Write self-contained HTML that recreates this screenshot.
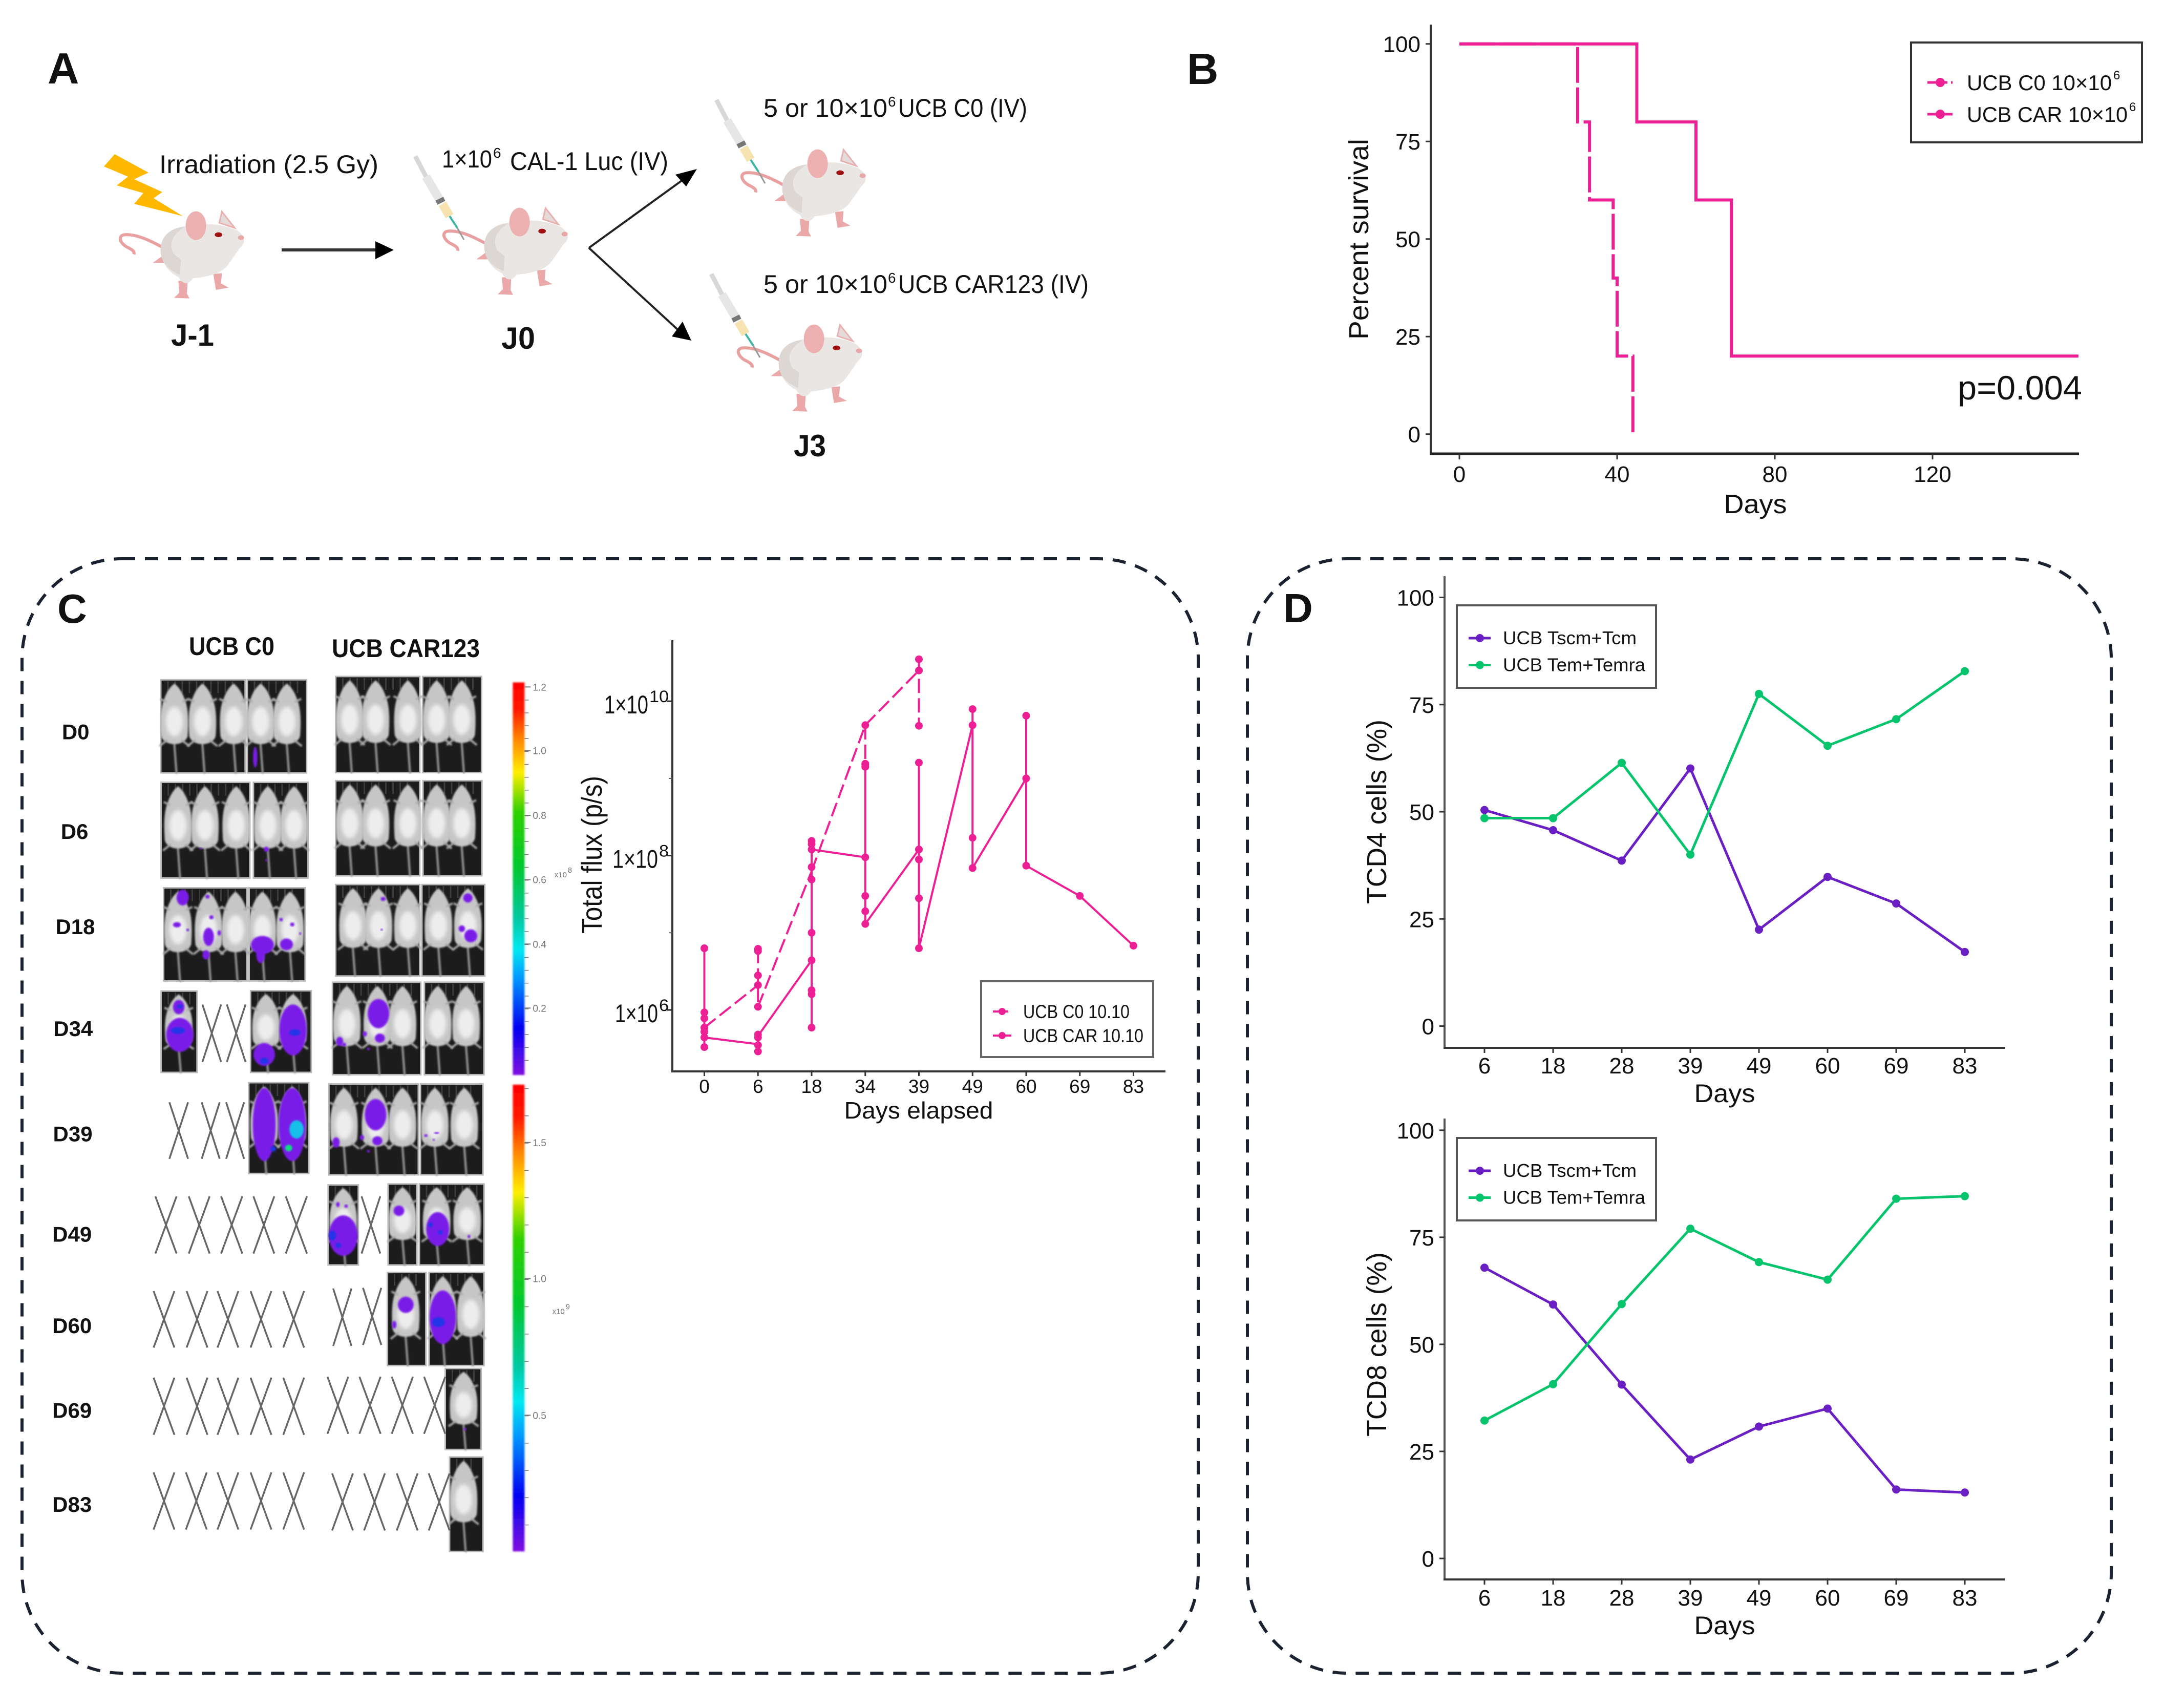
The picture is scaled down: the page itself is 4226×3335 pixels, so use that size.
<!DOCTYPE html>
<html lang="en">
<head>
<meta charset="utf-8">
<title>CAR123 mouse study figure</title>
<style>
html,body{margin:0;padding:0;background:#fff;width:4226px;height:3335px;overflow:hidden}
svg{display:block}
text{font-family:"Liberation Sans",sans-serif;fill:#111}
</style>
</head>
<body>
<svg id="fig" xmlns="http://www.w3.org/2000/svg" width="4226" height="3335" viewBox="0 0 4226 3335">
<defs>
<filter id="soft" x="-20%" y="-20%" width="140%" height="140%"><feGaussianBlur stdDeviation="1.6"/></filter>
<filter id="softer" x="-30%" y="-30%" width="160%" height="160%"><feGaussianBlur stdDeviation="3.4"/></filter>
<linearGradient id="lut" x1="0" y1="0" x2="0" y2="1">
<stop offset="0" stop-color="#ff0000"/><stop offset=".07" stop-color="#ff1a00"/><stop offset=".14" stop-color="#ff8000"/><stop offset=".23" stop-color="#ffee00"/><stop offset=".33" stop-color="#30d000"/><stop offset=".47" stop-color="#00c830"/><stop offset=".6" stop-color="#00c8a0"/><stop offset=".68" stop-color="#00e8f0"/><stop offset=".76" stop-color="#0090ff"/><stop offset=".88" stop-color="#0000f0"/><stop offset="1" stop-color="#8010e0"/>
</linearGradient>
<symbol id="schem-mouse" overflow="visible">
<g transform="scale(.3333)">
<path d="M345,395 C280,360 200,320 130,325 C90,330 100,370 140,395 C170,410 190,420 185,440" fill="none" stroke="#e9a0a0" stroke-width="18"/>
<path d="M295,490 L350,450 L368,490Z" fill="#eaa8a8"/>
<path d="M650,555 L700,550 L695,610 L740,635 L665,648 Z" fill="#eaa8a8"/>
<path d="M445,595 L500,595 L495,670 L510,698 L420,695 L450,665Z" fill="#eaa8a8"/>
<path d="M345,380 C360,310 430,280 490,275 C560,260 680,250 790,300 C835,330 845,372 805,402 C785,432 765,462 735,502 C705,545 640,570 530,580 C510,615 470,622 445,572 C380,542 330,470 345,380 Z" fill="#e9e6e4"/>
<path d="M345,380 C360,310 430,280 480,280 C420,320 380,370 420,440 L460,470 L455,560 C380,530 325,470 345,380Z" fill="#dcd7d3"/>
<ellipse cx="548" cy="272" rx="60" ry="84" fill="#ecb0b0"/>
<path d="M700,190 L775,285 L685,255 Z" fill="#e4dbd9" stroke="#e9b0b0" stroke-width="9"/>
<ellipse cx="680" cy="325" rx="22" ry="14" fill="#a01010"/>
<ellipse cx="812" cy="342" rx="18" ry="14" fill="#e9a8a8"/>
</g>
</symbol>
<symbol id="syringe" overflow="visible">
<line x1="811" y1="305" x2="832" y2="345" stroke="#d8d8d8" stroke-width="9"/>
<line x1="832" y1="345" x2="860" y2="392" stroke="#e6e6e6" stroke-width="17"/>
<line x1="858" y1="388" x2="862" y2="396" stroke="#777" stroke-width="17"/>
<line x1="864" y1="398" x2="878" y2="422" stroke="#f7e3b0" stroke-width="17"/>
<line x1="878" y1="422" x2="893" y2="445" stroke="#3fb5a5" stroke-width="4"/>
<line x1="893" y1="445" x2="906" y2="468" stroke="#999" stroke-width="3"/>
</symbol>
</defs>

<rect width="4226" height="3335" fill="#fff"/>

<!-- Panel A -->
<g>
<text x="93" y="163" font-size="85" font-weight="700" fill="#000">A</text>
<polygon points="224,301 290,337 262,350 317,375 300,387 357,422 262,398 280,377 228,362 250,345 203,325" fill="#ffb800"/>
<use href="#schem-mouse" x="200" y="350"/>
<use href="#schem-mouse" x="832" y="343"/>
<use href="#schem-mouse" x="1414" y="229"/>
<use href="#schem-mouse" x="1407" y="571"/>
<use href="#syringe"/>
<use href="#syringe" x="588" y="-110"/>
<use href="#syringe" x="578" y="230"/>
<text x="311" y="338" font-size="50" textLength="428" lengthAdjust="spacingAndGlyphs">Irradiation (2.5 Gy)</text>
<text x="863" y="327" font-size="48" textLength="98" lengthAdjust="spacingAndGlyphs">1×10</text>
<text x="963" y="308" font-size="28">6</text>
<text x="996" y="332" font-size="50" textLength="309" lengthAdjust="spacingAndGlyphs">CAL-1 Luc (IV)</text>
<text x="1491" y="228" font-size="50" textLength="242" lengthAdjust="spacingAndGlyphs">5 or 10×10</text>
<text x="1734" y="208" font-size="28">6</text>
<text x="1754" y="228" font-size="50" textLength="252" lengthAdjust="spacingAndGlyphs">UCB C0 (IV)</text>
<text x="1491" y="572" font-size="50" textLength="242" lengthAdjust="spacingAndGlyphs">5 or 10×10</text>
<text x="1734" y="552" font-size="28">6</text>
<text x="1754" y="572" font-size="50" textLength="372" lengthAdjust="spacingAndGlyphs">UCB CAR123 (IV)</text>
<text x="334" y="675" font-size="60" font-weight="700" textLength="84" lengthAdjust="spacingAndGlyphs">J-1</text>
<text x="979" y="681" font-size="60" font-weight="700" textLength="66" lengthAdjust="spacingAndGlyphs">J0</text>
<text x="1550" y="891" font-size="60" font-weight="700" textLength="63" lengthAdjust="spacingAndGlyphs">J3</text>
<line x1="550" y1="488" x2="736" y2="488" stroke="#333" stroke-width="6"/>
<polygon points="733,471 769,488 733,506" fill="#000"/>
<line x1="1150" y1="484" x2="1335" y2="350" stroke="#222" stroke-width="4"/>
<polygon points="1361,330 1319,341 1340,364" fill="#000"/>
<line x1="1150" y1="484" x2="1325" y2="645" stroke="#222" stroke-width="4"/>
<polygon points="1350,665 1312,657 1333,628" fill="#000"/>
</g>

<!-- Dashed group frames -->
<rect x="43" y="1091" width="2297" height="2176" rx="195" ry="195" fill="none" stroke="#1a2230" stroke-width="6" stroke-dasharray="26 19"/>
<rect x="2436" y="1091" width="1687" height="2176" rx="195" ry="195" fill="none" stroke="#1a2230" stroke-width="6" stroke-dasharray="26 19"/>

<text x="2318" y="164" font-size="85" font-weight="700" fill="#000">B</text>
<text x="112" y="1216" font-size="80" font-weight="700" fill="#000">C</text>
<text x="2506" y="1215" font-size="80" font-weight="700" fill="#000">D</text>

<text x="369" y="1279" font-size="50" font-weight="700" textLength="167" lengthAdjust="spacingAndGlyphs">UCB C0</text>
<text x="648" y="1283" font-size="50" font-weight="700" textLength="289" lengthAdjust="spacingAndGlyphs">UCB CAR123</text>

<g id="imaging"></g>
<g id="chart-b"></g>
<g id="chart-c"></g>
<g id="chart-d1"></g>
<g id="chart-d2"></g>
</svg>

<script>
// ---------- Chart data ----------
const survivalTicksX = [0, 40, 80, 120];
const survivalTicksY = [0, 25, 50, 75, 100];
const survivalC0Days = [0, 30, 33, 39, 40, 44];
const survivalC0Pct = [100, 80, 60, 40, 20, 0];
const survivalCarDays = [0, 45, 60, 69, 157];
const survivalCarPct = [100, 80, 60, 20, 20];

const fluxDays = ['0', '6', '18', '34', '39', '49', '60', '69', '83'];
const fluxC0Points = [
  [9.3e5, 7.8e5, 5.9e5, 5.2e5],
  [6.2e6, 5.8e6, 2.8e6, 2.1e6, 1.1e6],
  [1.41e8, 7.1e7, 1e7, 1.8e6],
  [4.9e9, 1.55e9, 1.41e9],
  [3.5e10, 2.5e10, 4.8e9]
];
const fluxCarPoints = [
  [6.3e6, 4.4e5, 3.3e5],
  [4.8e5, 4.4e5, 3.5e5, 2.9e5],
  [1.55e8, 1.2e8, 4.9e7, 4.4e6, 1.6e6, 5.9e5],
  [1.5e9, 9.5e7, 3e7, 1.9e7, 1.3e7],
  [1.6e9, 1.2e8, 8.9e7, 2.8e7, 6.3e6],
  [7.9e9, 4.9e9, 1.7e8, 6.9e7],
  [6.5e9, 1e9, 7.4e7],
  [3e7],
  [6.8e6]
];
const fluxC0Entry = [5.9e5, 2.1e6, 6.3e7, 4.9e9, 2.5e10];
const fluxC0Exit = [5.9e5, 1.1e6, 6.3e7, 4.9e9, 2.5e10];
const fluxCarEntry = [4.4e5, 3.6e5, 4.4e6, 9.5e7, 1.2e8, 4.9e9, 1e9, 3e7, 6.8e6];
const fluxCarExit = [4.4e5, 4.6e5, 1.2e8, 1.3e7, 6.3e6, 6.9e7, 7.4e7, 3e7, 6.8e6];
const fluxMajorTicks = [1e6, 1e8, 1e10];
const fluxMinorTicks = [1e7, 1e9];
const fluxTickExponents = ['6', '8', '10'];

const subsetDays = ['6', '18', '28', '39', '49', '60', '69', '83'];
const subsetTicksY = [0, 25, 50, 75, 100];
const cd4Tscm = [50.4, 45.7, 38.6, 60.1, 22.5, 34.8, 28.6, 17.3];
const cd4Tem = [48.5, 48.5, 61.4, 40, 77.5, 65.4, 71.6, 82.8];
const cd8Tscm = [67.9, 59.3, 40.6, 23.1, 30.8, 35, 16.1, 15.4];
const cd8Tem = [32.2, 40.7, 59.4, 77, 69.2, 65.1, 84, 84.6];

const PINK = '#ec1f94';
const PURPLE = '#6a1fc4';
const GREEN = '#05c46b';
const NS = 'http://www.w3.org/2000/svg';

// ---------- Drawing helpers ----------
function addLine(parent, x1, y1, x2, y2, color, width, dash, name) {
  const el = document.createElementNS(NS, 'line');
  el.setAttribute('x1', x1);
  el.setAttribute('y1', y1);
  el.setAttribute('x2', x2);
  el.setAttribute('y2', y2);
  el.setAttribute('stroke', color);
  el.setAttribute('stroke-width', width);
  if (dash) el.setAttribute('stroke-dasharray', dash);
  
  
  parent.appendChild(el);
  return el;
}
function addPolyline(parent, pts, color, width, dash, name) {
  const el = document.createElementNS(NS, 'polyline');
  el.setAttribute('points', pts.map(p => p[0] + ',' + p[1]).join(' '));
  el.setAttribute('fill', 'none');
  el.setAttribute('stroke', color);
  el.setAttribute('stroke-width', width);
  if (dash) el.setAttribute('stroke-dasharray', dash);
  
  
  parent.appendChild(el);
  return el;
}
function addDot(parent, cx, cy, r, color, name) {
  const el = document.createElementNS(NS, 'circle');
  el.setAttribute('cx', cx);
  el.setAttribute('cy', cy);
  el.setAttribute('r', r);
  el.setAttribute('fill', color);
  
  
  parent.appendChild(el);
  return el;
}
function addRect(parent, x, y, w, h, fill, stroke, sw, name) {
  const el = document.createElementNS(NS, 'rect');
  el.setAttribute('x', x);
  el.setAttribute('y', y);
  el.setAttribute('width', w);
  el.setAttribute('height', h);
  el.setAttribute('fill', fill);
  if (stroke) { el.setAttribute('stroke', stroke); el.setAttribute('stroke-width', sw); }
  
  
  parent.appendChild(el);
  return el;
}
function addText(parent, x, y, str, size, anchor, length, name, rotate) {
  const el = document.createElementNS(NS, 'text');
  el.setAttribute('x', x);
  el.setAttribute('y', y);
  el.setAttribute('font-size', size);
  el.setAttribute('text-anchor', anchor || 'start');
  if (length) { el.setAttribute('textLength', length); el.setAttribute('lengthAdjust', 'spacingAndGlyphs'); }
  if (rotate) el.setAttribute('transform', 'rotate(-90 ' + x + ' ' + y + ')');
  el.textContent = str;
  
  
  parent.appendChild(el);
  return el;
}

// ---------- Panel B: survival ----------
(function () {
  const g = document.getElementById('chart-b');
  const xB = d => 2850 + d * 7.7;
  const yB = v => 847.7 - v * 7.62;
  const stepPath = (days, pct) => {
    const pts = [[xB(days[0]), yB(pct[0])]];
    for (let i = 1; i < days.length; i++) {
      pts.push([xB(days[i]), yB(pct[i - 1])]);
      pts.push([xB(days[i]), yB(pct[i])]);
    }
    return pts;
  };
  addPolyline(g, stepPath(survivalC0Days, survivalC0Pct), PINK, 6, '70 9', 'survival-line-c0');
  addPolyline(g, stepPath(survivalCarDays, survivalCarPct), PINK, 6, null, 'survival-line-car');
  addLine(g, 2794, 48, 2794, 888, '#333', 4, null, 'y-axis-line');
  addLine(g, 2792, 886, 4060, 886, '#222', 5, null, 'x-axis-line');
  survivalTicksY.forEach(v => {
    addLine(g, 2784, yB(v), 2794, yB(v), '#333', 3, null, 'y-tick');
    addText(g, 2774, yB(v) + 16, String(v), 44, 'end', null, 'y-tick-label');
  });
  survivalTicksX.forEach(d => {
    addLine(g, xB(d), 886, xB(d), 897, '#333', 3, null, 'x-tick');
    addText(g, xB(d), 941, String(d), 44, 'middle', null, 'x-tick-label');
  });
  addText(g, 3428, 1002, 'Days', 52, 'middle', 123, 'x-axis-title');
  addText(g, 2672, 467, 'Percent survival', 54, 'middle', 392, 'y-axis-title', true);
  addText(g, 3823, 780, 'p=0.004', 66, 'start', 243, 'p-value');
  addRect(g, 3732, 83, 451, 195, '#fff', '#333', 4, 'legend-box');
  addLine(g, 3764, 161, 3813, 161, PINK, 5, '16 7', 'legend-line-c0');
  addDot(g, 3789, 161, 9, PINK, 'legend-marker-c0');
  addText(g, 3841, 176, 'UCB C0 10×10', 42, 'start', 283, 'legend-entry-c0');
  addText(g, 4127, 155, '6', 24, 'start', null, 'legend-exponent-c0');
  addLine(g, 3764, 223, 3813, 223, PINK, 5, null, 'legend-line-car');
  addDot(g, 3789, 223, 9, PINK, 'legend-marker-car');
  addText(g, 3841, 238, 'UCB CAR 10×10', 42, 'start', 314, 'legend-entry-car');
  addText(g, 4158, 217, '6', 24, 'start', null, 'legend-exponent-car');
})();

// ---------- Panel C: flux chart ----------
(function () {
  const g = document.getElementById('chart-c');
  const xC = i => 1375.5 + i * 104.75;
  const yC = v => 1972 - (Math.log10(v) - 6) * 150.7;
  const drawGroup = (points, entry, exit, dash, prefix) => {
    points.forEach((vals, i) => {
      if (vals.length > 1) {
        addLine(g, xC(i), yC(Math.max(...vals)), xC(i), yC(Math.min(...vals)), PINK, 4, dash, prefix + '-range-day-' + fluxDays[i]);
      }
      if (i < points.length - 1) {
        addLine(g, xC(i), yC(exit[i]), xC(i + 1), yC(entry[i + 1]), PINK, 4, dash, prefix + '-trend-segment');
      }
    });
    points.forEach((vals, i) => {
      vals.forEach(v => {
        addDot(g, xC(i), yC(v), 7.5, PINK, prefix + '-point-day-' + fluxDays[i]);
      });
    });
  };
  drawGroup(fluxC0Points, fluxC0Entry, fluxC0Exit, '28 10', 'c0');
  drawGroup(fluxCarPoints, fluxCarEntry, fluxCarExit, null, 'car');
  addLine(g, 1313, 1250, 1313, 2094, '#333', 4, null, 'y-axis-line');
  addLine(g, 1311, 2092, 2276, 2092, '#333', 4, null, 'x-axis-line');
  fluxMajorTicks.forEach((v, i) => {
    addLine(g, 1303, yC(v), 1313, yC(v), '#333', 3, null, 'y-tick-major');
    const exp = fluxTickExponents[i];
    const supW = exp.length * 19;
    const baseLeft = { '6': 1201, '8': 1196, '10': 1180 }[exp];
    addText(g, baseLeft, yC(v) + 24, '1×10', 50, 'start', 1306 - supW - 2 - baseLeft, 'y-tick-label');
    addText(g, 1306, yC(v) + 2, exp, 32, 'end', supW, 'y-tick-exponent');
  });
  fluxMinorTicks.forEach(v => {
    addLine(g, 1306, yC(v), 1313, yC(v), '#555', 2, null, 'y-tick-minor');
  });
  fluxDays.forEach((d, i) => {
    addLine(g, xC(i), 2092, xC(i), 2101, '#333', 3, null, 'x-tick');
    addText(g, xC(i), 2134, d, 37, 'middle', null, 'x-tick-label');
  });
  addText(g, 1794, 2184, 'Days elapsed', 46, 'middle', 291, 'x-axis-title');
  addText(g, 1175, 1669, 'Total flux (p/s)', 56, 'middle', 308, 'y-axis-title', true);
  addRect(g, 1916, 1916, 336, 148, '#fff', '#666', 4, 'legend-box');
  addLine(g, 1939, 1975, 1975, 1975, PINK, 4, '12 6', 'legend-line-c0');
  addDot(g, 1957, 1975, 7, PINK, 'legend-marker-c0');
  addText(g, 1998, 1988, 'UCB C0 10.10', 37, 'start', 208, 'legend-entry-c0');
  addLine(g, 1939, 2022, 1975, 2022, PINK, 4, null, 'legend-line-car');
  addDot(g, 1957, 2022, 7, PINK, 'legend-marker-car');
  addText(g, 1998, 2035, 'UCB CAR 10.10', 37, 'start', 235, 'legend-entry-car');
})();

// ---------- Panel D: subset charts ----------
function drawSubsetChart(gid, yZero, yPerUnit, axisTop, axisBottom, tickLabelY, titleY, ylabel, ylabelCenter, legendTop, tscm, tem) {
  const g = document.getElementById(gid);
  const xD = i => 2899 + i * 134;
  const yD = v => yZero - v * yPerUnit;
  addPolyline(g, tscm.map((v, i) => [xD(i), yD(v)]), PURPLE, 5, null, 'line-tscm-tcm');
  addPolyline(g, tem.map((v, i) => [xD(i), yD(v)]), GREEN, 5, null, 'line-tem-temra');
  tscm.forEach((v, i) => { addDot(g, xD(i), yD(v), 8, PURPLE, 'point-tscm-day-' + subsetDays[i]); });
  tem.forEach((v, i) => { addDot(g, xD(i), yD(v), 8, GREEN, 'point-tem-day-' + subsetDays[i]); });
  addLine(g, 2821, axisTop, 2821, axisBottom + 2, '#555', 4, null, 'y-axis-line');
  addLine(g, 2819, axisBottom, 3916, axisBottom, '#333', 4, null, 'x-axis-line');
  subsetTicksY.forEach(v => {
    addLine(g, 2811, yD(v), 2821, yD(v), '#333', 3, null, 'y-tick');
    addText(g, 2801, yD(v) + 16, String(v), 44, 'end', null, 'y-tick-label');
  });
  subsetDays.forEach((d, i) => {
    addLine(g, xD(i), axisBottom, xD(i), axisBottom + 10, '#333', 3, null, 'x-tick');
    addText(g, xD(i), tickLabelY, d, 44, 'middle', null, 'x-tick-label');
  });
  addText(g, 3368, titleY, 'Days', 50, 'middle', 119, 'x-axis-title');
  addText(g, 2707, ylabelCenter, ylabel, 54, 'middle', 360, 'y-axis-title', true);
  addRect(g, 2845, legendTop, 389, 161, '#fff', '#555', 4, 'legend-box');
  const e1 = legendTop + 64, e2 = legendTop + 116.5;
  addLine(g, 2868, e1, 2911, e1, PURPLE, 5, null, 'legend-line-tscm');
  addDot(g, 2890, e1, 8, PURPLE, 'legend-marker-tscm');
  addText(g, 2935, e1 + 12, 'UCB Tscm+Tcm', 36, 'start', 261, 'legend-entry-tscm');
  addLine(g, 2868, e2, 2911, e2, GREEN, 5, null, 'legend-line-tem');
  addDot(g, 2890, e2, 8, GREEN, 'legend-marker-tem');
  addText(g, 2935, e2 + 12, 'UCB Tem+Temra', 36, 'start', 278, 'legend-entry-tem');
}
drawSubsetChart('chart-d1', 2003.5, 8.37, 1125, 2046, 2096, 2152, 'TCD4 cells (%)', 1585, 1182, cd4Tscm, cd4Tem);
drawSubsetChart('chart-d2', 3043, 8.362, 2184, 3084, 3135, 3191, 'TCD8 cells (%)', 2625, 2222, cd8Tscm, cd8Tem);

// ---------- Panel C: imaging illustration ----------
(function () {
  const root = document.getElementById('imaging');
  const OFF = 1489.5;
  const X = x => 60 + 0.7015 * x;
  const Y = y => 1150 + 0.6378 * y;
  const mkPath = (d, fill) => {
    const el = document.createElementNS(NS, 'path');
    el.setAttribute('d', d);
    el.setAttribute('fill', fill);
    return el;
  };
  function mouse(parent, cxZ, topPx, hPx) {
    const cx = X(cxZ), y0 = topPx + hPx * 0.04, h = hPx * 0.66, w = 28;
    const g = document.createElementNS(NS, 'g');
    g.setAttribute('filter', 'url(#soft)');
    
    
    const f = (a, b) => (cx + a * w).toFixed(1) + ',' + (y0 + b * h).toFixed(1);
    const tail = addLine(g, cx, y0 + h, cx + 4, topPx + hPx, '#9a9a9a', 4, null, 'mouse-tail');
    tail.setAttribute('stroke-linecap', 'round');
    g.appendChild(mkPath('M' + f(0, 0) + ' C' + f(.32, .06) + ' ' + f(.55, .14) + ' ' + f(.72, .26) + ' C' + f(.98, .4) + ' ' + f(1, .62) + ' ' + f(.92, .86) + ' C' + f(.7, 1.03) + ' ' + f(-.7, 1.03) + ' ' + f(-.92, .86) + ' C' + f(-1, .62) + ' ' + f(-.98, .4) + ' ' + f(-.72, .26) + ' C' + f(-.55, .14) + ' ' + f(-.32, .06) + ' ' + f(0, 0) + 'Z', '#c6c6c6'));
    const hi = document.createElementNS(NS, 'ellipse');
    hi.setAttribute('cx', cx);
    hi.setAttribute('cy', y0 + h * 0.62);
    hi.setAttribute('rx', w * 0.6);
    hi.setAttribute('ry', h * 0.24);
    hi.setAttribute('fill', '#ededed');
    hi.setAttribute('filter', 'url(#softer)');
    g.appendChild(hi);
    addLine(g, cx - w * 1.0, y0 + h * 0.25, cx - w * 0.55, y0 + h * 0.3, '#aaa', 4, null, 'mouse-forepaw');
    addLine(g, cx + w * 1.0, y0 + h * 0.25, cx + w * 0.55, y0 + h * 0.3, '#aaa', 4, null, 'mouse-forepaw');
    addLine(g, cx - w * 1.05, y0 + h * 1.02, cx - w * 0.5, y0 + h * 0.92, '#aaa', 4, null, 'mouse-hindpaw');
    addLine(g, cx + w * 1.05, y0 + h * 1.02, cx + w * 0.5, y0 + h * 0.92, '#aaa', 4, null, 'mouse-hindpaw');
    parent.appendChild(g);
  }
  function blob(parent, b, offs) {
    const el = document.createElementNS(NS, 'ellipse');
    el.setAttribute('cx', X(b[0]));
    el.setAttribute('cy', Y(b[1] + offs));
    el.setAttribute('rx', b[2] * 0.7015);
    el.setAttribute('ry', b[3] * 0.6378);
    el.setAttribute('fill', b[4] || '#7a1fe8');
    el.setAttribute('filter', 'url(#soft)');
    
    
    parent.appendChild(el);
  }
  function panel(p, offs) {
    const x0 = X(p[0]), y0 = Y(p[1] + offs), x1 = X(p[2]), y1 = Y(p[3] + offs);
    const g = document.createElementNS(NS, 'g');
    
    
    addRect(g, x0, y0, x1 - x0, y1 - y0, '#1c1c1c', '#b8b8b8', 3, 'imaging-panel-background');
    const n = Math.floor((x1 - x0) / 14);
    for (let i = 1; i < n; i++) {
      addLine(g, x0 + i * 14, y0 + 3, x0 + i * 14, y0 + 26, '#3d3d3d', 3, null, 'imaging-stage-bar');
    }
    p[4].forEach(c => mouse(g, c, y0, y1 - y0));
    (p[5] || []).forEach(b => blob(g, b, offs));
    root.appendChild(g);
  }
  function cross(xa, xb, ya, yb, offs) {
    const g = document.createElementNS(NS, 'g');
    
    
    addLine(g, X(xa), Y(ya + offs), X(xb), Y(yb + offs), '#666', 3.5, null, 'cross-stroke');
    addLine(g, X(xb), Y(ya + offs), X(xa), Y(yb + offs), '#666', 3.5, null, 'cross-stroke');
    root.appendChild(g);
  }
  const BL = '#2436e8';
  const topPanels = [
    [362, 278, 597, 563, [400, 478, 565]],
    [603, 278, 768, 563, [640, 713], [[625, 515, 6, 32]]],
    [849, 268, 1083, 562, [888, 960, 1050]],
    [1091, 268, 1255, 562, [1130, 1200]],
    [363, 592, 610, 885, [410, 485, 572], [[473, 795, 3, 3]]],
    [620, 592, 772, 885, [660, 733], [[656, 797, 7, 8], [656, 830, 3, 4]]],
    [849, 587, 1083, 878, [888, 960, 1050]],
    [1092, 587, 1256, 878, [1130, 1200]],
    [370, 915, 602, 1200, [410, 495, 570], [[423, 945, 17, 24], [492, 942, 6, 6], [503, 1005, 6, 6], [407, 1028, 11, 8], [495, 1065, 15, 28], [525, 1053, 5, 8], [488, 1120, 10, 14], [437, 1044, 4, 4]]],
    [608, 915, 764, 1200, [645, 722], [[645, 1090, 32, 28], [640, 1120, 12, 25], [712, 1088, 18, 18], [697, 1012, 5, 5], [728, 1027, 6, 6], [750, 1055, 3, 4]]],
    [849, 905, 1083, 1185, [897, 968, 1050], [[981, 949, 7, 6], [977, 1043, 3, 3]]],
    [1089, 905, 1264, 1185, [1135, 1217], [[1217, 946, 13, 14], [1200, 1040, 9, 10], [1225, 1062, 18, 20]]],
    [363, 1231, 463, 1480, [412], [[412, 1280, 16, 22], [415, 1365, 38, 52], [410, 1352, 20, 10, BL], [415, 1278, 8, 6, BL]]],
    [612, 1230, 781, 1480, [655, 730], [[650, 1425, 30, 35], [730, 1350, 38, 78], [735, 1358, 16, 10, BL], [650, 1445, 12, 10, BL]]],
    [840, 1204, 1086, 1487, [880, 965, 1035], [[968, 1300, 30, 45], [860, 1385, 10, 14], [872, 1395, 6, 6], [930, 1362, 6, 8], [972, 1375, 14, 14], [940, 1408, 4, 4]]],
    [1096, 1204, 1262, 1487, [1133, 1212]]
  ];
  const bottomPanels = [
    [607, 22, 774, 300, [650, 728], [[650, 150, 32, 112], [728, 150, 38, 112], [740, 165, 20, 28, '#18c0e8'], [718, 222, 10, 10, '#10e080'], [675, 225, 8, 8, BL]]],
    [830, 26, 1079, 304, [872, 960, 1035], [[960, 120, 30, 48], [850, 205, 10, 16], [922, 190, 6, 8], [965, 200, 14, 14], [940, 232, 4, 4]]],
    [1085, 26, 1259, 304, [1125, 1207], [[1100, 184, 5, 4], [1130, 176, 7, 3], [1122, 197, 3, 3]]],
    [828, 335, 912, 580, [870], [[870, 490, 40, 62], [855, 395, 5, 8], [878, 400, 5, 5], [840, 490, 10, 15, BL], [856, 520, 8, 8, BL]]],
    [995, 332, 1075, 580, [1035], [[1025, 414, 15, 16]]],
    [1082, 332, 1262, 580, [1130, 1215], [[1133, 470, 32, 52], [1113, 457, 7, 7, BL], [1140, 480, 7, 7, BL], [1220, 493, 4, 5]]],
    [993, 603, 1100, 888, [1044], [[1044, 702, 22, 25], [1012, 763, 6, 12]]],
    [1109, 603, 1262, 888, [1147, 1225], [[1147, 740, 37, 82], [1135, 755, 18, 15, BL]]],
    [1154, 897, 1254, 1145, [1205], [[1209, 1083, 4, 4]]],
    [1166, 1168, 1259, 1457, [1205]]
  ];
  const topCrosses = [[478, 530, 1272, 1448], [546, 598, 1272, 1448]];
  const bottomCrosses = [
    [386, 438, 82, 255], [476, 526, 82, 255], [544, 594, 82, 255],
    [347, 406, 370, 545], [440, 498, 370, 545], [530, 589, 370, 545], [620, 678, 370, 545], [710, 769, 370, 545], [921, 973, 370, 545],
    [342, 400, 660, 833], [434, 492, 660, 833], [520, 578, 660, 833], [612, 670, 660, 833], [703, 761, 660, 833], [842, 893, 652, 828], [925, 976, 650, 825],
    [342, 400, 925, 1100], [434, 492, 925, 1100], [520, 578, 925, 1100], [612, 670, 925, 1100], [703, 761, 925, 1100],
    [826, 884, 922, 1097], [915, 974, 922, 1097], [1005, 1064, 922, 1097], [1095, 1154, 922, 1097],
    [342, 400, 1215, 1390], [432, 490, 1215, 1390], [520, 578, 1215, 1390], [612, 670, 1215, 1390], [703, 761, 1215, 1390],
    [839, 897, 1218, 1393], [928, 986, 1218, 1393], [1019, 1077, 1218, 1393], [1108, 1166, 1218, 1393]
  ];
  topPanels.forEach(p => panel(p, 0));
  bottomPanels.forEach(p => panel(p, OFF));
  topCrosses.forEach(c => cross(c[0], c[1], c[2], c[3], 0));
  bottomCrosses.forEach(c => cross(c[0], c[1], c[2], c[3], OFF));

  const dayLabels = [['D0', 125, 437], ['D6', 122, 742], ['D18', 124, 1033], ['D34', 118, 1345], ['D39', 117, 178 + OFF], ['D49', 115, 485 + OFF], ['D60', 115, 765 + OFF], ['D69', 115, 1025 + OFF], ['D83', 115, 1312 + OFF]];
  dayLabels.forEach(d => {
    const t = addText(root, X(d[1]), Y(d[2]) + 15, d[0], 42, 'middle', null, 'day-label-' + d[0].toLowerCase());
    t.setAttribute('font-weight', '700');
  });

  function colorbar(yTop, yBot, ticks, minor, expY, expX, exp, nameStem) {
    const x0 = X(1342), w = 23;
    const r = addRect(root, x0, Y(yTop), w, Y(yBot) - Y(yTop), 'url(#lut)', null, 0, nameStem + '-bar');
    r.setAttribute('filter', 'url(#soft)');
    minor.forEach(z => {
      addLine(root, x0 + w, Y(z), x0 + w + 8, Y(z), '#777', 1.5, null, nameStem + '-minor-tick');
    });
    ticks.forEach(t => {
      addLine(root, x0 + w, Y(t[1]), x0 + w + 12, Y(t[1]), '#777', 2, null, nameStem + '-tick');
      const lbl = addText(root, x0 + w + 16, Y(t[1]) + 7, t[0], 19, 'start', null, nameStem + '-tick-label');
      lbl.setAttribute('style', 'fill:#777');
    });
    const ex = addText(root, X(expX), Y(expY) + 5, 'x10', 15, 'start', null, nameStem + '-scale-label');
    ex.setAttribute('style', 'fill:#777');
    const ex2 = addText(root, X(expX) + 26, Y(expY) - 4, exp, 15, 'start', null, nameStem + '-scale-exponent');
    ex2.setAttribute('style', 'fill:#777');
  }
  const bar1Major = [['1.2', 300], ['1.0', 495], ['0.8', 693], ['0.6', 890], ['0.4', 1087], ['0.2', 1283]];
  const bar1Minor = [];
  for (let z = 340; z < 1480; z += 39.4) bar1Minor.push(z);
  colorbar(286, 1488, bar1Major, bar1Minor, 875, 1458, '8', 'colorbar-top');
  const bar2Major = [['1.5', 205 + OFF], ['1.0', 622 + OFF], ['0.5', 1040 + OFF]];
  const bar2Minor = [];
  for (let z = 40 + OFF; z < 1440 + OFF; z += 83.5) bar2Minor.push(z);
  colorbar(28 + OFF, 1457 + OFF, bar2Major, bar2Minor, 722 + OFF, 1452, '9', 'colorbar-bottom');
})();
</script>
</body>
</html>
